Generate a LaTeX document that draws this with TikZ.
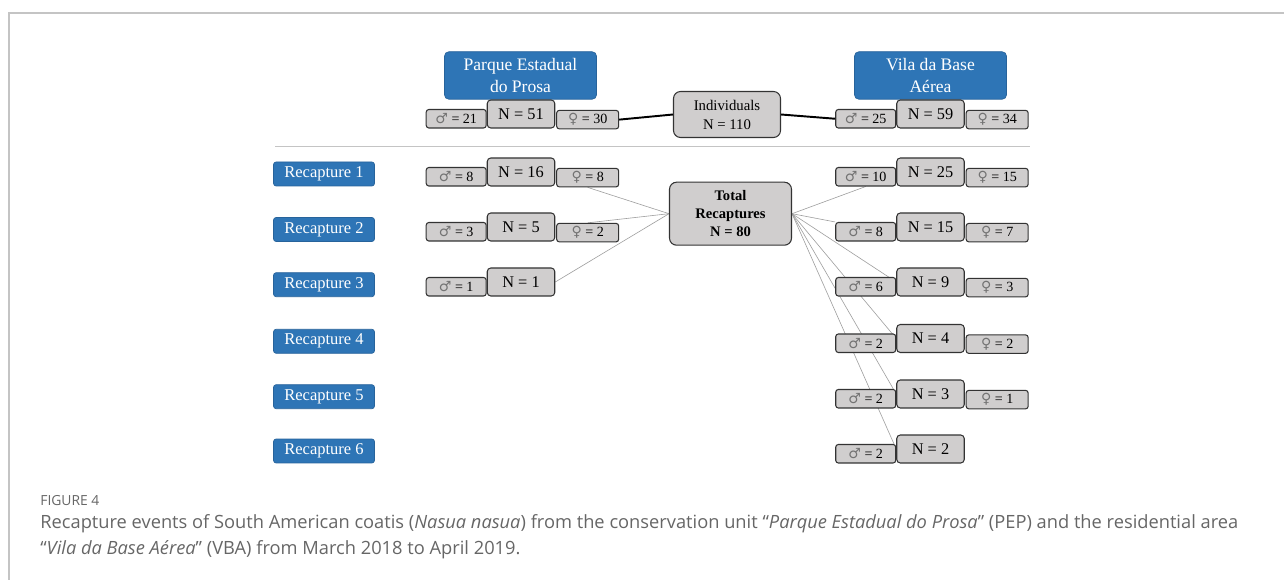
\documentclass[tikz,border=0pt]{standalone}
\usepackage{fontspec}
\setmainfont{Liberation Serif}
\newfontfamily\symfont{DejaVu Sans}
\newfontfamily\capfont{Open Sans}
\usepackage{xcolor}
\usetikzlibrary{positioning,calc,backgrounds}

\definecolor{hdrblue}{HTML}{2E75B6}
\definecolor{boxgray}{HTML}{D0CECE}
\definecolor{rulegray}{HTML}{C4C4C4}
\definecolor{capgray}{HTML}{666666}
\newcommand{\msym}{{\symfont\color{black!55}\char"2642}}
\newcommand{\fsym}{{\symfont\color{black!55}\char"2640}}

\begin{document}
\begin{tikzpicture}[x=0.02cm, y=-0.02cm,
  hdr/.style={draw=hdrblue!85!black, fill=hdrblue, rounded corners=2.5pt, text=white,
    font=\fontsize{10}{12.5}\selectfont, align=center,
    minimum width=3.04cm, minimum height=0.95cm, inner sep=0pt},
  recap/.style={draw=hdrblue!85!black, fill=hdrblue, rounded corners=1.5pt, text=white,
    font=\fontsize{9.4}{11}\selectfont, minimum width=2.02cm, minimum height=0.48cm, inner sep=0pt},
  graybox/.style={draw=black!80, fill=boxgray, line width=0.6pt, inner sep=0pt},
  nbox/.style={graybox, rounded corners=2pt, font=\fontsize{9.3}{11}\selectfont,
    minimum width=1.35cm, minimum height=0.56cm},
  malebox/.style={graybox, rounded corners=1.5pt, font=\fontsize{8}{9}\selectfont,
    minimum width=1.2cm, minimum height=0.37cm, anchor=south east},
  femalebox/.style={graybox, rounded corners=1.5pt, font=\fontsize{8}{9}\selectfont,
    minimum width=1.24cm, minimum height=0.37cm, anchor=south west, xshift=0.5pt, yshift=-0.5pt},
  sumbox/.style={graybox, rounded corners=4pt, align=center},
  link/.style={gray!75, line width=0.35pt},
  tie/.style={black, line width=1.1pt},
  captext/.style={anchor=base west, inner sep=0pt, text=capgray}]

  \useasboundingbox (0,0) rectangle (1284,580);

  % Frame and rule
  \draw[rulegray, line width=1.1pt] (9,580) -- (9,13) -- (1284,13);
  \draw[rulegray, line width=0.8pt] (275,146.5) -- (1030,146.5);

  % Site headers
  \node[hdr] (pep) at (520.5,75.5) {Parque Estadual\\do Prosa};
  \node[hdr] (vba) at (930.5,75.5) {Vila da Base\\Aérea};

  % Totals
  \node[sumbox, minimum width=2.14cm, minimum height=0.92cm,
    font=\fontsize{8.4}{10.8}\selectfont] (ind) at (727,114.5) {Individuals\\N = 110};
  \node[sumbox, minimum width=2.44cm, minimum height=1.26cm,
    font=\bfseries\fontsize{8.3}{10.2}\selectfont] (tot) at (730.5,213.7) {Total\\Recaptures\\N = 80};

  % Recapture labels
  \foreach \i/\y in {1/174, 2/229.5, 3/284.7, 4/341.3, 5/396.7, 6/451}
    \node[recap] (rec\i) at (324,\y) {Recapture \i};

  % Parque Estadual do Prosa
  \foreach \i/\y/\m/\nt/\f in {0/114/21/51/30, 1/172/8/16/8, 2/227/3/5/2} {
    \node[nbox] (nl\i) at (521,\y) {N = \nt};
    \node[malebox] (ml\i) at (nl\i.south west) {\msym{} = \m};
    \node[femalebox] (fl\i) at (nl\i.south east) {\fsym{} = \f};
  }
  \node[nbox] (nl3) at (521,282) {N = 1};
  \node[malebox] (ml3) at (nl3.south west) {\msym{} = 1};

  % Vila da Base Aerea
  \foreach \i/\y/\m/\nt/\f in {0/114/25/59/34, 1/172/10/25/15, 2/227/8/15/7,
      3/282/6/9/3, 4/338.5/2/4/2, 5/394/2/3/1} {
    \node[nbox] (nr\i) at (930.5,\y) {N = \nt};
    \node[malebox] (mr\i) at (nr\i.south west) {\msym{} = \m};
    \node[femalebox] (fr\i) at (nr\i.south east) {\fsym{} = \f};
  }
  \node[nbox] (nr6) at (930.5,449) {N = 2};
  \node[malebox] (mr6) at (nr6.south west) {\msym{} = 2};

  % Connectors
  \draw[tie] (fl0.east) -- (ind.west);
  \draw[tie] (ind.east) -- (mr0.west);
  \begin{scope}[on background layer]
    \draw[link] (tot.west) -- (fl1.south);
    \draw[link] (tot.west) -- (fl2.north);
    \draw[link] (tot.west) -- (nl3.east);
    \draw[link] (tot.east) -- (mr1.south);
    \draw[link] (tot.east) -- (mr2.north west);
    \foreach \i in {3,...,6}
      \draw[link] (tot.east) -- (nr\i.west);
  \end{scope}

  % Caption
  \node[captext, font=\capfont\fontsize{7.9}{9}\selectfont] (fig) at (40,505) {FIGURE 4};
  \node[captext, font=\capfont\fontsize{10.4}{12}\selectfont] (cap1) at (40,528)
    {Recapture events of South American coatis (\textit{Nasua nasua}) from the conservation unit “\textit{Parque Estadual do Prosa}” (PEP) and the residential area};
  \node[captext, font=\capfont\fontsize{10.4}{12}\selectfont] (cap2) at (40,554)
    {“\textit{Vila da Base Aérea}” (VBA) from March 2018 to April 2019.};
\end{tikzpicture}
\end{document}
